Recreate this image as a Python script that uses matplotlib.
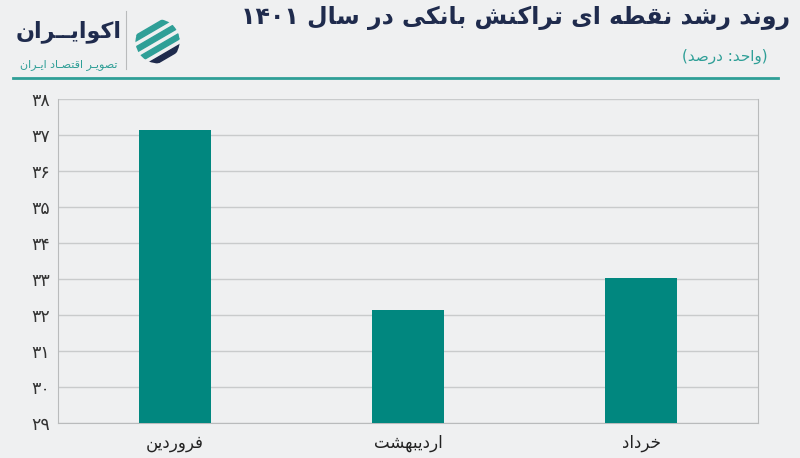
import matplotlib
matplotlib.use("Agg")
import matplotlib.pyplot as plt
import numpy as np
from matplotlib.patches import Circle, Polygon

# داده ها
months = ["فروردین", "اردیبهشت", "خرداد"]
growth = [37.13, 32.15, 33.03]
y_ticks = list(range(29, 39))

title = "روند رشد نقطه ای تراکنش بانکی در سال ۱۴۰۱"
unit = "(واحد: درصد)"
brand = "اکوایــران"
brand_sub = "تصویـر اقتصـاد ایـران"

bar_color = "#01877f"
navy = "#1f2b4d"
teal = "#2f9f97"
bg = "#eff0f1"

# شکل دهی ساده حروف فارسی (matplotlib خودش این کار را نمی کند)
DUAL = {
    "ب": (0xFE8F, 0xFE90, 0xFE91, 0xFE92),
    "ت": (0xFE95, 0xFE96, 0xFE97, 0xFE98),
    "ح": (0xFEA1, 0xFEA2, 0xFEA3, 0xFEA4),
    "خ": (0xFEA5, 0xFEA6, 0xFEA7, 0xFEA8),
    "س": (0xFEB1, 0xFEB2, 0xFEB3, 0xFEB4),
    "ش": (0xFEB5, 0xFEB6, 0xFEB7, 0xFEB8),
    "ص": (0xFEB9, 0xFEBA, 0xFEBB, 0xFEBC),
    "ط": (0xFEC1, 0xFEC2, 0xFEC3, 0xFEC4),
    "ف": (0xFED1, 0xFED2, 0xFED3, 0xFED4),
    "ق": (0xFED5, 0xFED6, 0xFED7, 0xFED8),
    "ل": (0xFEDD, 0xFEDE, 0xFEDF, 0xFEE0),
    "ن": (0xFEE5, 0xFEE6, 0xFEE7, 0xFEE8),
    "ه": (0xFEE9, 0xFEEA, 0xFEEB, 0xFEEC),
    "ی": (0xFBFC, 0xFBFD, 0xFBFE, 0xFBFF),
    "ک": (0xFB8E, 0xFB8F, 0xFB90, 0xFB91),
    "ـ": (0x0640, 0x0640, 0x0640, 0x0640),
}
RIGHT = {
    "ا": (0xFE8D, 0xFE8E),
    "د": (0xFEA9, 0xFEAA),
    "ر": (0xFEAD, 0xFEAE),
    "و": (0xFEED, 0xFEEE),
}


def shape(text):
    out = []
    n = len(text)
    for i, ch in enumerate(text):
        prev = text[i - 1] if i > 0 else ""
        nxt = text[i + 1] if i < n - 1 else ""
        jp = prev in DUAL and (ch in DUAL or ch in RIGHT)
        if ch in DUAL:
            jn = nxt in DUAL or nxt in RIGHT
            iso, fin, ini, med = DUAL[ch]
            code = med if (jp and jn) else fin if jp else ini if jn else iso
            out.append(chr(code))
        elif ch in RIGHT:
            iso, fin = RIGHT[ch]
            out.append(chr(fin if jp else iso))
        else:
            out.append(ch)
    return "".join(out)


def fa(text):
    s = shape(text)
    runs = []
    for ch in s:
        is_num = ch.isdigit()
        if runs and runs[-1][0] == is_num:
            runs[-1][1].append(ch)
        else:
            runs.append((is_num, [ch]))
    vis = []
    for is_num, chars in reversed(runs):
        vis.extend(chars if is_num else reversed(chars))
    mirror = {"(": ")", ")": "("}
    return "".join(mirror.get(c, c) for c in vis)


def fa_num(v):
    return str(v).translate(str.maketrans("0123456789", "۰۱۲۳۴۵۶۷۸۹"))


plt.rcParams["font.family"] = ["DejaVu Sans"]

fig = plt.figure(figsize=(8, 4.58), dpi=100)
fig.patch.set_facecolor(bg)

ax = fig.add_axes([0.0725, 0.0764, 0.875, 0.7074])
ax.set_facecolor(bg)
x = np.arange(len(months))
ax.bar(x, growth, width=0.31, color=bar_color, zorder=3)
ax.set_xlim(-0.5, len(months) - 0.5)
ax.set_ylim(29, 38)
ax.set_yticks(y_ticks)
ax.set_yticklabels([fa_num(t) for t in y_ticks], fontsize=12.5, color="#333333")
ax.set_xticks(x)
ax.set_xticklabels([fa(m) for m in months], fontsize=12, color="#222222")
ax.tick_params(axis="y", length=0, pad=6)
ax.tick_params(axis="x", length=0, pad=8)
ax.grid(axis="y", color="#c9cbcc", linewidth=1, zorder=0)
for side in ["left", "bottom", "right"]:
    ax.spines[side].set_color("#b9bbbc")
ax.spines["top"].set_visible(False)

# سرتیتر
fig.text(0.988, 0.962, fa(title), ha="right", va="center", fontsize=17,
         fontweight="bold", color=navy)
fig.text(0.959, 0.876, fa(unit), ha="right", va="center", fontsize=11,
         color=teal)
fig.add_artist(plt.Line2D([0.016, 0.972], [0.83, 0.83], color=teal, linewidth=2))

# لوگو
fig.text(0.086, 0.93, fa(brand), ha="center", va="center", fontsize=16,
         fontweight="bold", color=navy)
fig.text(0.086, 0.86, fa(brand_sub), ha="center", va="center", fontsize=8,
         color=teal)
fig.add_artist(plt.Line2D([0.157, 0.157], [0.85, 0.975], color="#b9bbbc", linewidth=0.8))

lax = fig.add_axes([0.168, 0.835, 0.058, 0.15])
lax.set_xlim(-1, 1)
lax.set_ylim(-1, 1)
lax.set_aspect("equal")
lax.axis("off")
clip = Circle((0, 0), 0.95, transform=lax.transData)
for k, c in enumerate([navy, teal, teal, teal]):
    off = -0.75 + k * 0.5
    band = Polygon([(-1.2, off - 0.9), (1.2, off + 0.5), (1.2, off + 0.75), (-1.2, off - 0.65)],
                   closed=True, color=c)
    band.set_clip_path(clip)
    lax.add_patch(band)

fig.savefig("out.png", dpi=100, facecolor=bg)
